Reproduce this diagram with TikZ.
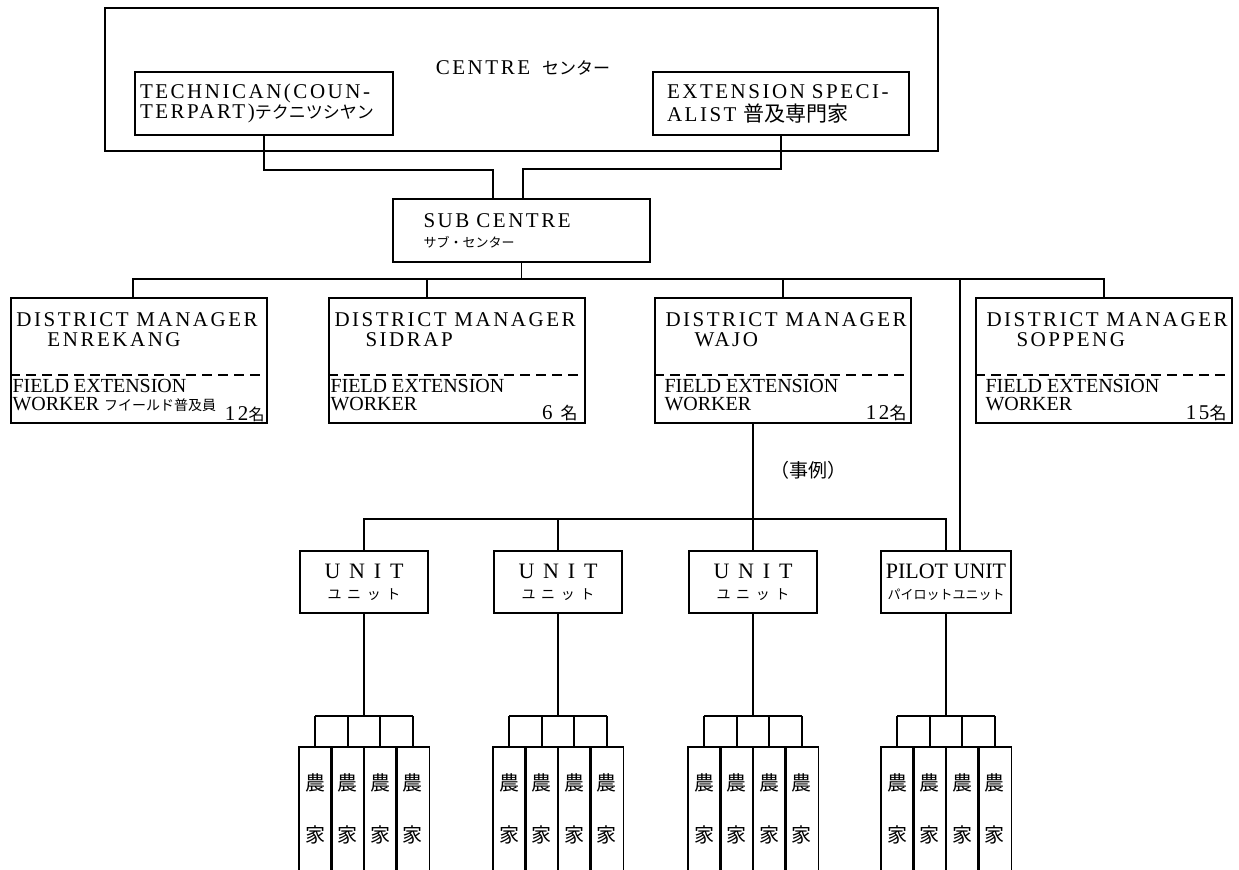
\documentclass[tikz,border=0pt]{standalone}
\usepackage{fontspec}
\setmainfont{Liberation Serif}[LetterSpace=12]
\newfontfamily\narrowrm{Liberation Serif}
\newfontfamily\jpfont{Noto Sans CJK JP}
\newcommand{\jpL}{\jpfont\fontsize{10.5}{10.5}\selectfont}
\newcommand{\jpM}{\jpfont\fontsize{8.5}{8.5}\selectfont}
\newcommand{\jpS}{\jpfont\fontsize{6.5}{6.5}\selectfont}
\newcommand{\jpU}{\jpfont\fontsize{7}{7}\selectfont\addfontfeature{LetterSpace=40}}
\newcommand{\unitrm}{\fontsize{11}{11}\selectfont\addfontfeature{LetterSpace=40}}
\tikzset{
    orgbox/.style={draw, line width=0.9pt, inner sep=0pt, minimum height=31.5pt, align=left, font=\fontsize{10.5}{10}\selectfont},
    distbox/.style={draw, line width=0.9pt, inner sep=0pt, minimum width=128pt, minimum height=62.5pt},
    unitbox/.style={draw, line width=0.9pt, inner sep=0pt, minimum width=64pt, minimum height=31pt, align=center, font=\fontsize{11}{10.5}\selectfont},
    farmer/.style={inner sep=0pt, minimum width=16.25pt, minimum height=61.5pt, align=center, font=\jpfont\fontsize{10}{26}\selectfont},
    head/.style={inner sep=0pt, align=left, font=\fontsize{10.5}{10}\selectfont},
    staff/.style={inner sep=0pt, align=left, font=\narrowrm\fontsize{10}{11}\selectfont},
    count/.style={inner sep=0pt, font=\fontsize{10.5}{10}\selectfont},
    link/.style={line width=0.9pt},
    divider/.style={line width=0.7pt, dash pattern=on 5pt off 3pt}
}

\begin{document}
\begin{tikzpicture}[x=0.5pt, y=-0.5pt]
    \useasboundingbox (0,0) rectangle (1239,870);
    \fill[white] (0,0) rectangle (1239,870);

    % 1. Centre
    \node[draw, line width=0.9pt, minimum width=416.5pt, minimum height=71.5pt] (centre) at (521.5,79.5) {};
    \node[head] (centrelbl) at (523,68) {CENTRE\hspace{6pt}{\jpM センター}};
    \node[orgbox, minimum width=129pt, text width=124pt] (tech) at (264,103.5) {TECHNICAN(COUN-\\TERPART){\jpM テクニツシヤン}};
    \node[orgbox, minimum width=128pt, text width=114pt] (ext) at (781,103.5) {EXTENSION SPECI-\\[1.5pt]ALIST {\jpL 普及専門家}};

    % 2. Sub centre
    \node[orgbox, minimum width=128.5pt, text width=98pt] (sub) at (521.5,230.5) {SUB CENTRE\\{\jpS サブ・センター}};
    \draw[link] (tech.south) -- ++(0,34) -| ([shift={(-28.5,0)}]sub.north);
    \draw[link] (ext.south) -- ++(0,33) -| ([shift={(1.5,0)}]sub.north);

    % 3. District managers
    \coordinate (dbus) at (521.5,279);
    \draw[link] (sub.south) -- (dbus);

    \node[distbox] (enr) at (139,360.5) {};
    \node[head, anchor=north west] (enrhd) at ([shift={(6,15)}]enr.north west) {DISTRICT MANAGER\\\hspace*{15.5pt}ENREKANG};
    \draw[divider] ([shift={(0,78)}]enr.north west) -- ([shift={(0,78)}]enr.north east);
    \node[staff, anchor=north west] (enrfw) at ([shift={(2,82)}]enr.north west) {FIELD EXTENSION\\[-2pt]WORKER {\jpfont\fontsize{7}{7}\selectfont フイールド普及員}};
    \node[count, anchor=base east] (enrno) at ([shift={(-3,-3)}]enr.south east) {12{\jpfont\fontsize{8}{8}\selectfont 名}};

    \node[distbox] (sid) at (457,360.5) {};
    \node[head, anchor=north west] (sidhd) at ([shift={(6,15)}]sid.north west) {DISTRICT MANAGER\\\hspace*{15.5pt}SIDRAP};
    \draw[divider] ([shift={(0,78)}]sid.north west) -- ([shift={(0,78)}]sid.north east);
    \node[staff, anchor=north west] (sidfw) at ([shift={(2,82)}]sid.north west) {FIELD EXTENSION\\[-2pt]WORKER};
    \node[count, anchor=base east] (sidno) at ([shift={(-8,-4)}]sid.south east) {6 {\jpM 名}};

    \node[distbox] (waj) at (783,360.5) {};
    \node[head, anchor=north west] (wajhd) at ([shift={(11,15)}]waj.north west) {DISTRICT MANAGER\\\hspace*{14.5pt}WAJO};
    \draw[divider] ([shift={(0,78)}]waj.north west) -- ([shift={(0,78)}]waj.north east);
    \node[staff, anchor=north west] (wajfw) at ([shift={(10,82)}]waj.north west) {FIELD EXTENSION\\[-2pt]WORKER};
    \node[count, anchor=base east] (wajno) at ([shift={(-5,-4)}]waj.south east) {12{\jpM 名}};

    \node[distbox] (sop) at (1104,360.5) {};
    \node[head, anchor=north west] (sophd) at ([shift={(11,15)}]sop.north west) {DISTRICT MANAGER\\\hspace*{15pt}SOPPENG};
    \draw[divider] ([shift={(0,78)}]sop.north west) -- ([shift={(0,78)}]sop.north east);
    \node[staff, anchor=north west] (sopfw) at ([shift={(10,82)}]sop.north west) {FIELD EXTENSION\\[-2pt]WORKER};
    \node[count, anchor=base east] (sopno) at ([shift={(-6,-4)}]sop.south east) {15{\jpM 名}};

    \draw[link] ([shift={(-6,0)}]enr.north) |- (dbus) -| (sop.north);
    \draw[link] ([shift={(-30,0)}]sid.north) |- (dbus);
    \draw[link] (waj.north) |- (dbus);

    % 4. Units (example: WAJO)
    \node[font=\jpfont\fontsize{9.5}{9.5}\selectfont] (example) at (808,470) {（事例）};
    \coordinate (ubus) at (753,519);
    \node[unitbox] (u1) at (364,582) {{\unitrm UNIT}\\{\jpU ユニット}};
    \node[unitbox] (u2) at (558,582) {{\unitrm UNIT}\\{\jpU ユニット}};
    \node[unitbox] (u3) at (753,582) {{\unitrm UNIT}\\{\jpU ユニット}};
    \node[unitbox, minimum width=65pt] (pil) at (946,582) {{\narrowrm PILOT UNIT}\\{\jpS パイロットユニット}};
    \draw[link] ([shift={(-30,0)}]waj.south) -- (u3.north);
    \draw[link] (u1.north) |- (ubus) -| (pil.north);
    \draw[link] (u2.north) |- (ubus);
    \draw[link] ([shift={(14,0)}]pil.north) |- (dbus);

    % 5. Farm households
    \foreach \g/\nm/\c in {1/u1/364, 2/u2/558, 3/u3/753, 4/pil/946}{
        \coordinate (fb\g) at (\c,716);
        \draw[link] (\nm.south) -- (fb\g);
        \foreach \k in {0,...,3}{
            \node[farmer] (f\g\k) at (\c-48.75+32.5*\k,809) {農\\家};
            \draw[link] (f\g\k.south west) |- (f\g\k.north east) -- (f\g\k.south east);
            \draw[link] (f\g\k.north) -- (f\g\k.north |- fb\g);
        }
        \draw[link] (f\g0.north |- fb\g) -- (f\g3.north |- fb\g);
    }
\end{tikzpicture}
\end{document}
